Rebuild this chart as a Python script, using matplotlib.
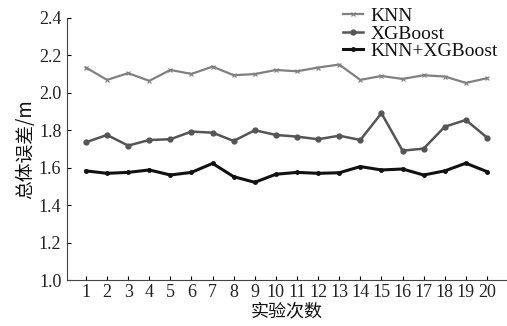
import matplotlib
matplotlib.use("Agg")
import matplotlib.pyplot as plt

runs = list(range(1, 21))
knn = [2.135, 2.069, 2.105, 2.064, 2.122, 2.101, 2.140, 2.094, 2.100, 2.122,
       2.115, 2.135, 2.151, 2.069, 2.090, 2.074, 2.094, 2.087, 2.053, 2.078]
xgb = [1.736, 1.775, 1.718, 1.748, 1.752, 1.793, 1.787, 1.743, 1.800, 1.775,
       1.766, 1.752, 1.771, 1.748, 1.891, 1.691, 1.702, 1.819, 1.855, 1.761]
knn_xgb = [1.583, 1.570, 1.575, 1.588, 1.561, 1.575, 1.623, 1.552, 1.522, 1.565,
           1.575, 1.570, 1.573, 1.606, 1.588, 1.593, 1.561, 1.583, 1.624, 1.579]
y_ticks = [1.0, 1.2, 1.4, 1.6, 1.8, 2.0, 2.2, 2.4]

serif = ["Liberation Serif", "DejaVu Serif"]
cjk = ["Noto Sans CJK SC", "DejaVu Sans"]

fig = plt.figure(figsize=(5.07, 3.26), dpi=100)
ax = fig.add_axes([0.132, 0.141, 0.866, 0.804])

ax.plot(runs, knn, color="#808080", lw=1.6, marker="x", ms=2.5, mew=0.8, label="KNN")
ax.plot(runs, xgb, color="#555555", lw=1.8, marker="o", ms=3.5, label="XGBoost")
ax.plot(runs, knn_xgb, color="#111111", lw=2.2, marker="o", ms=2.5, label="KNN+XGBoost")

ax.set_xlim(0.1, 20.9)
ax.set_ylim(1.0, 2.4)
ax.set_xticks(runs)
ax.set_yticks(y_ticks)
ax.set_yticklabels([f"{v:.1f}" for v in y_ticks])
ax.tick_params(direction="in", length=3, width=0.8, labelsize=13, pad=4)
ax.tick_params(axis="x", pad=3)
for lab in ax.get_xticklabels() + ax.get_yticklabels():
    lab.set_family(serif)
    lab.set_color("#222222")

for side in ("top", "right"):
    ax.spines[side].set_visible(False)
for side in ("left", "bottom"):
    ax.spines[side].set_color("#444444")
    ax.spines[side].set_linewidth(0.8)

ax.set_xlabel("实验次数", family=cjk, fontsize=13, labelpad=1, color="#111111")
ax.set_ylabel("总体误差/m", family=cjk, fontsize=13.5, labelpad=2, color="#111111")

leg = ax.legend(loc="upper right", bbox_to_anchor=(1.0, 1.07), frameon=False,
                prop={"family": serif, "size": 14}, handlelength=1.0,
                handletextpad=0.4, labelspacing=0.0, borderaxespad=0)
for t in leg.get_texts():
    t.set_color("#111111")

fig.savefig("out.png", dpi=100)
